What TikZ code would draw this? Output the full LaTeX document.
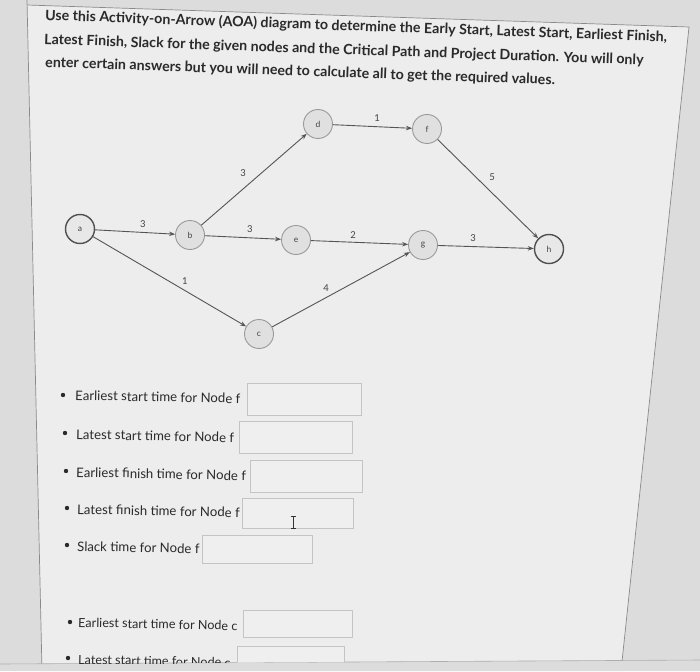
\documentclass[tikz,border=0pt]{standalone}
\usepackage{fontspec}
\setmainfont{Lato}
\usetikzlibrary{arrows.meta}
\definecolor{bgout}{HTML}{DCDCDC}
\definecolor{panel}{HTML}{EDEDED}
\definecolor{panelline}{HTML}{8A8A8A}
\definecolor{nodefill}{HTML}{E0E0E0}
\definecolor{nodeedge}{HTML}{9A9A9A}
\definecolor{endedge}{HTML}{505050}
\definecolor{endfill}{HTML}{E8E8E8}
\definecolor{linegray}{HTML}{555555}
\definecolor{txtgray}{HTML}{444444}
\definecolor{boxedge}{HTML}{C4C4C4}
\definecolor{boxfill}{HTML}{EFEFEF}
\definecolor{maintxt}{HTML}{2A2A2A}
\tikzset{
  ev/.style={circle, draw=nodeedge, fill=nodefill, line width=0.9pt, minimum size=29pt, inner sep=0pt, font=\fontsize{8.5}{8.5}\selectfont, text=txtgray},
  endev/.style={ev, draw=endedge, line width=1.4pt, fill=endfill},
  act/.style={draw=linegray, line width=0.9pt, -{Stealth[length=6pt,width=4.5pt]}},
  lbl/.style={font=\fontsize{9.5}{9.5}\selectfont, text=txtgray, inner sep=0pt},
  ansbox/.style={draw=boxedge, fill=boxfill, line width=0.8pt, anchor=north west, inner sep=0pt},
  anstext/.style={anchor=base west, inner sep=0pt, font=\fontsize{13.2}{15}\selectfont, text=maintxt, rotate=-1.2},
  anstextc/.style={anstext, font=\fontsize{12.6}{15}\selectfont},
  titletext/.style={anchor=base west, inner sep=0pt, font=\bfseries\fontsize{14.2}{15}\selectfont, text=maintxt, rotate=-2},
  bul/.style={circle, fill=maintxt, inner sep=0pt, minimum size=4.4pt}
}
\begin{document}
\begin{tikzpicture}[x=1pt,y=-1pt]
\useasboundingbox (0,0) rectangle (700,671);
\fill[bgout] (0,0) rectangle (700,671);
% panel
\fill[panel] (27,5) -- (689,27) -- (621,671) -- (42,671) -- cycle;
\draw[panelline, line width=0.7pt] (27,0) -- (42,671);
\draw[panelline, line width=0.7pt] (27,5) -- (689,27);
\draw[panelline, line width=0.7pt] (689,27) -- (621,671);
\fill[bgout] (0,664) -- (700,660) -- (700,671) -- (0,671) -- cycle;
\draw[panelline!70, line width=0.6pt] (0,664) -- (700,660);

% title
\node[titletext] (t1) at (45,20) {Use this Activity-on-Arrow (AOA) diagram to determine the Early Start, Latest Start, Earliest Finish,};
\node[titletext] (t2) at (44,44) {Latest Finish, Slack for the given nodes and the Critical Path and Project Duration. You will only};
\node[titletext] (t3) at (45,67) {enter certain answers but you will need to calculate all to get the required values.};

% events
\node[endev] (a) at (80,229) {a};
\node[ev] (b) at (190,235) {b};
\node[ev] (d) at (318,124) {d};
\node[ev] (e) at (296,240) {e};
\node[ev] (c) at (259,334) {c};
\node[ev] (f) at (427,129) {f};
\node[ev] (g) at (423,245) {g};
\node[endev] (h) at (549,249) {h};

% activities
\draw[act] (a) -- (b);
\draw[act] (a) -- (c);
\draw[act] (b) -- (d);
\draw[act] (b) -- (e);
\draw[act] (d) -- (f);
\draw[act] (e) -- (g);
\draw[act] (c) -- (g);
\draw[act] (f) -- (h);
\draw[act] (g) -- (h);

% durations
\node[lbl] (lab) at (143,224) {3};
\node[lbl] (lbe) at (250,229) {3};
\node[lbl] (lbd) at (243,173) {3};
\node[lbl] (lac) at (185,281) {1};
\node[lbl] (lcg) at (326,288) {4};
\node[lbl] (leg) at (353,235) {2};
\node[lbl] (ldf) at (377,118) {1};
\node[lbl] (lfh) at (492,177) {5};
\node[lbl] (lgh) at (473,238) {3};

% answer boxes
\node[ansbox, minimum width=114pt, minimum height=32pt] (r1) at (247,383) {};
\node[ansbox, minimum width=113pt, minimum height=32pt] (r2) at (239,421) {};
\node[ansbox, minimum width=112pt, minimum height=32pt] (r3) at (250,460) {};
\node[ansbox, minimum width=111pt, minimum height=30pt] (r4) at (242,498) {};
\node[ansbox, minimum width=110pt, minimum height=28pt] (r5) at (202,535) {};
\node[ansbox, minimum width=109pt, minimum height=27pt] (r6) at (243,610) {};

% answer texts
\node[bul] (b1) at (63,395) {};
\node[anstext] (q1) at (75,400) {Earliest start time for Node f};
\node[bul] (b2) at (65,433) {};
\node[anstext] (q2) at (76,439) {Latest start time for Node f};
\node[bul] (b3) at (66,471) {};
\node[anstext] (q3) at (76,477) {Earliest finish time for Node f};
\node[bul] (b4) at (67,508) {};
\node[anstext] (q4) at (77,514) {Latest finish time for Node f};
\node[bul] (b5) at (67,545) {};
\node[anstext] (q5) at (77,551) {Slack time for Node f};
\node[bul] (b6) at (70,622) {};
\node[anstextc] (q6) at (78,627) {Earliest start time for Node c};

\begin{scope}
\clip (0,0) -- (700,0) -- (700,660) -- (0,664) -- cycle;
\node[ansbox, minimum width=107pt, minimum height=27pt] (r7) at (237,646) {};
\node[bul] (b7) at (68,658) {};
\node[anstextc] (q7) at (78,664) {Latest start time for Node c};
\end{scope}

% text cursor
\draw[black!80, line width=0.7pt] (293,516) -- (293,528) (290.5,516) -- (295.5,516) (290.5,528) -- (295.5,528);
\end{tikzpicture}
\end{document}
